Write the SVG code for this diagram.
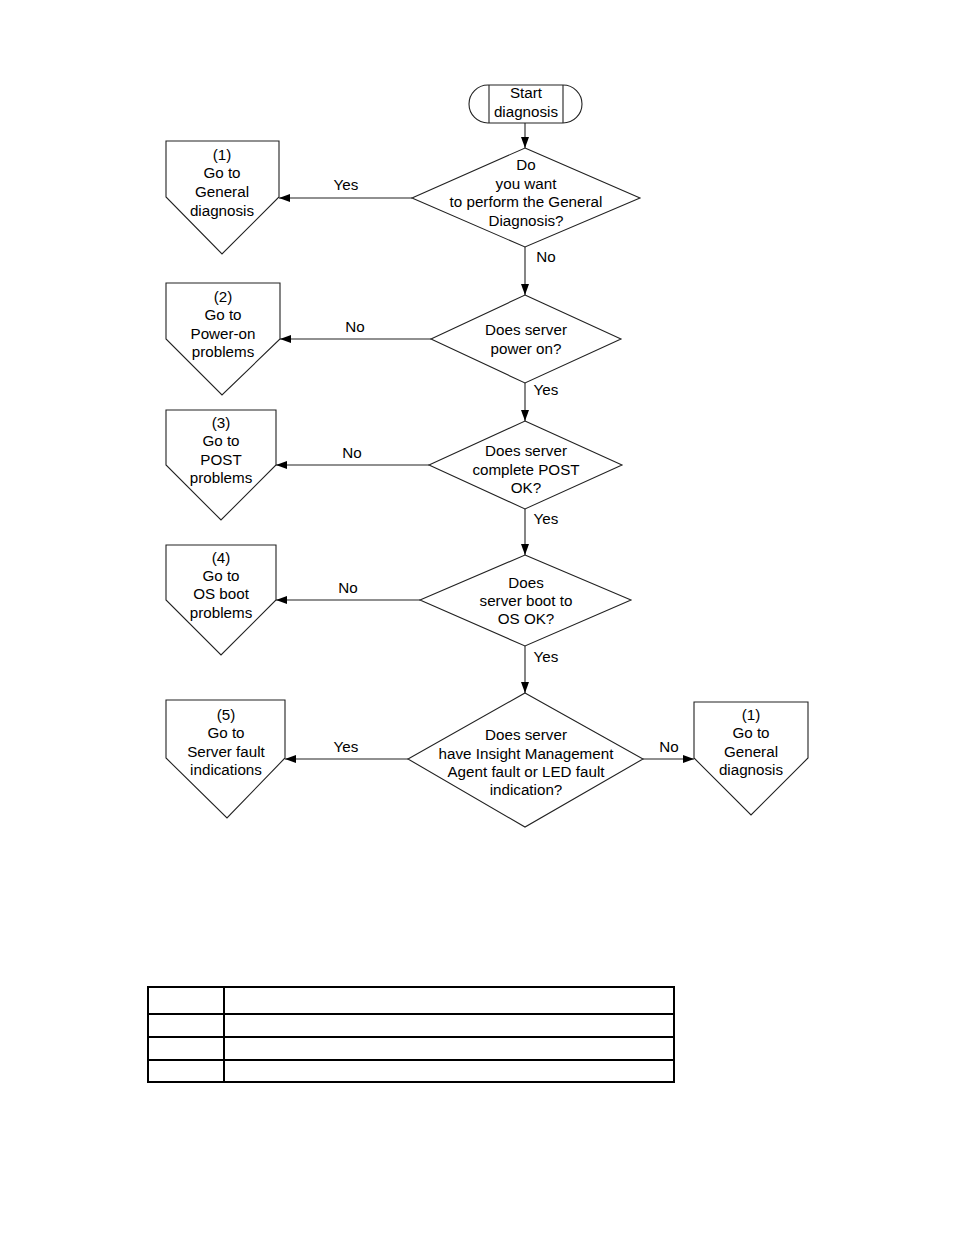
<svg xmlns="http://www.w3.org/2000/svg" width="954" height="1235" viewBox="0 0 954 1235">
<defs>
<marker id="ah" markerWidth="11" markerHeight="8" refX="11" refY="4" orient="auto" markerUnits="userSpaceOnUse">
<path d="M0,0 L11,4 L0,8 z" fill="#000"/>
</marker>
<style>
.s{fill:#fff;stroke:#222;stroke-width:1.1}
.t{font-family:"Liberation Sans",Arial,sans-serif;font-size:15.2px;fill:#000;text-anchor:middle}
.c{stroke:#222;stroke-width:1.1;fill:none}
.tb{stroke:#000;stroke-width:2;fill:none}
</style>
</defs>
<rect width="954" height="1235" fill="#fff"/>

<g id="start">
<rect class="s" x="469" y="85" width="113" height="38" rx="19" ry="19"/>
<line class="c" x1="489" y1="85" x2="489" y2="123"/>
<line class="c" x1="563" y1="85" x2="563" y2="123"/>
<text class="t" x="526" y="98">Start</text>
<text class="t" x="526" y="117">diagnosis</text>
</g>

<g id="d1">
<polygon class="s" points="525,148 640,198 525,247 412,198"/>
<text class="t" x="526" y="170">Do</text>
<text class="t" x="526" y="189">you want</text>
<text class="t" x="526" y="207">to perform the General</text>
<text class="t" x="526" y="226">Diagnosis?</text>
</g>

<g id="o1">
<polygon class="s" points="166,141 279,141 279,197 222,254 166,197"/>
<text class="t" x="222" y="160">(1)</text>
<text class="t" x="222" y="178">Go to</text>
<text class="t" x="222" y="197">General</text>
<text class="t" x="222" y="216">diagnosis</text>
</g>

<g id="d2">
<polygon class="s" points="525,295 621,339 525,383 431,339"/>
<text class="t" x="526" y="335">Does server</text>
<text class="t" x="526" y="354">power on?</text>
</g>

<g id="o2">
<polygon class="s" points="166,283 280,283 280,339 222,395 166,339"/>
<text class="t" x="223" y="302">(2)</text>
<text class="t" x="223" y="320">Go to</text>
<text class="t" x="223" y="339">Power-on</text>
<text class="t" x="223" y="357">problems</text>
</g>

<g id="d3">
<polygon class="s" points="525,421 622,465 525,509 429,465"/>
<text class="t" x="526" y="456">Does server</text>
<text class="t" x="526" y="475">complete POST</text>
<text class="t" x="526" y="493">OK?</text>
</g>

<g id="o3">
<polygon class="s" points="166,410 276,410 276,465 221,520 166,465"/>
<text class="t" x="221" y="428">(3)</text>
<text class="t" x="221" y="446">Go to</text>
<text class="t" x="221" y="465">POST</text>
<text class="t" x="221" y="483">problems</text>
</g>

<g id="d4">
<polygon class="s" points="525,555 631,600 525,646 420,600"/>
<text class="t" x="526" y="588">Does</text>
<text class="t" x="526" y="606">server boot to</text>
<text class="t" x="526" y="624">OS OK?</text>
</g>

<g id="o4">
<polygon class="s" points="166,545 276,545 276,600 221,655 166,600"/>
<text class="t" x="221" y="563">(4)</text>
<text class="t" x="221" y="581">Go to</text>
<text class="t" x="221" y="599">OS boot</text>
<text class="t" x="221" y="618">problems</text>
</g>

<g id="d5">
<polygon class="s" points="525,693 643,759 525,827 408,759"/>
<text class="t" x="526" y="740">Does server</text>
<text class="t" x="526" y="759">have Insight Management</text>
<text class="t" x="526" y="777">Agent fault or LED fault</text>
<text class="t" x="526" y="795">indication?</text>
</g>

<g id="o5">
<polygon class="s" points="166,700 285,700 285,758 227,818 166,758"/>
<text class="t" x="226" y="720">(5)</text>
<text class="t" x="226" y="738">Go to</text>
<text class="t" x="226" y="757">Server fault</text>
<text class="t" x="226" y="775">indications</text>
</g>

<g id="o6">
<polygon class="s" points="694,702 808,702 808,758 751,815 694,758"/>
<text class="t" x="751" y="720">(1)</text>
<text class="t" x="751" y="738">Go to</text>
<text class="t" x="751" y="757">General</text>
<text class="t" x="751" y="775">diagnosis</text>
</g>

<g id="connectors">
<line class="c" x1="525" y1="123" x2="525" y2="148" marker-end="url(#ah)"/>
<line class="c" x1="412" y1="198" x2="279" y2="198" marker-end="url(#ah)"/>
<line class="c" x1="525" y1="247" x2="525" y2="295" marker-end="url(#ah)"/>
<line class="c" x1="431" y1="339" x2="280" y2="339" marker-end="url(#ah)"/>
<line class="c" x1="525" y1="383" x2="525" y2="421" marker-end="url(#ah)"/>
<line class="c" x1="429" y1="465" x2="276" y2="465" marker-end="url(#ah)"/>
<line class="c" x1="525" y1="509" x2="525" y2="555" marker-end="url(#ah)"/>
<line class="c" x1="420" y1="600" x2="276" y2="600" marker-end="url(#ah)"/>
<line class="c" x1="525" y1="646" x2="525" y2="693" marker-end="url(#ah)"/>
<line class="c" x1="408" y1="759" x2="285" y2="759" marker-end="url(#ah)"/>
<line class="c" x1="643" y1="759" x2="694" y2="759" marker-end="url(#ah)"/>
<text class="t" x="346" y="190">Yes</text>
<text class="t" x="546" y="262">No</text>
<text class="t" x="355" y="332">No</text>
<text class="t" x="546" y="395">Yes</text>
<text class="t" x="352" y="458">No</text>
<text class="t" x="546" y="524">Yes</text>
<text class="t" x="348" y="593">No</text>
<text class="t" x="546" y="662">Yes</text>
<text class="t" x="346" y="752">Yes</text>
<text class="t" x="669" y="752">No</text>
</g>

<g id="table">
<rect class="tb" x="148" y="987" width="526" height="95"/>
<line class="tb" x1="224" y1="987" x2="224" y2="1082"/>
<line class="tb" x1="148" y1="1014" x2="674" y2="1014"/>
<line class="tb" x1="148" y1="1037" x2="674" y2="1037"/>
<line class="tb" x1="148" y1="1060" x2="674" y2="1060"/>
</g>
</svg>
